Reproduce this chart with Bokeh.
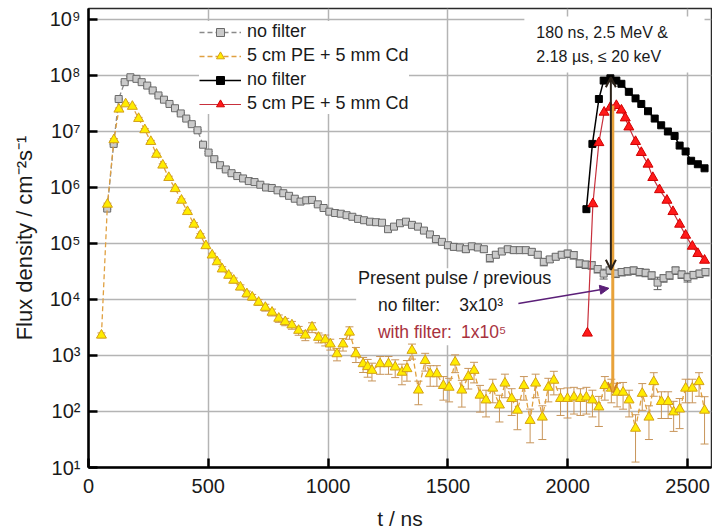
from bokeh.plotting import figure
from bokeh.models import (Range1d, FixedTicker, Legend, LegendItem, Whisker, TeeHead,
                          Arrow, OpenHead, NormalHead, Label, BoxAnnotation, ColumnDataSource)
from bokeh.embed import file_html
from bokeh.resources import INLINE

FONT = "Liberation Sans"

# ---- previous pulse, no filter (t in ns, flux in cm^-2 s^-1) ----
t_prev = [78, 105, 126, 151, 175, 200, 222, 245, 268, 292, 315, 338, 361, 385, 408, 431, 455,
          478, 501, 525, 549, 573, 597, 621, 645, 669, 693, 717, 741, 765, 789, 813, 837, 861,
          885, 909, 933, 957, 981, 1005, 1029, 1053, 1077, 1101, 1125,
          1150, 1175, 1200, 1225, 1250, 1275, 1300, 1325, 1350, 1375, 1400, 1425, 1450, 1475,
          1500, 1525, 1550, 1575, 1600, 1625, 1650, 1675, 1700, 1725, 1750, 1775, 1800, 1825,
          1850, 1875, 1900, 1925, 1950, 1975,
          2000, 2025, 2050, 2075, 2100, 2125, 2150, 2175, 2200, 2225, 2250, 2275, 2300, 2325,
          2350, 2375, 2400, 2425, 2450, 2475, 2500, 2525, 2550, 2575]
flux_prev = [4.2e5, 6.0e6, 3.8e7, 7.6e7, 9.3e7, 8.7e7, 7.6e7, 6.6e7, 5.4e7, 4.4e7, 3.7e7, 3.1e7,
             2.6e7, 2.1e7, 1.7e7, 1.35e7, 1.05e7,
             5.8e6, 4.2e6, 3.2e6, 2.5e6, 2.1e6, 1.8e6, 1.6e6, 1.45e6, 1.3e6, 1.25e6, 1.12e6, 1.0e6,
             9.8e5, 8.9e5, 7.9e5, 7.1e5, 6.3e5, 5.6e5, 5.9e5, 6.0e5, 5.0e5, 4.3e5, 3.7e5, 3.5e5,
             3.4e5, 3.2e5, 3.0e5, 2.75e5,
             2.6e5, 2.45e5, 2.4e5, 2.35e5, 1.8e5, 2.0e5, 2.3e5, 2.45e5, 2.15e5, 2.0e5, 1.7e5,
             1.45e5, 1.2e5, 1.07e5,
             9.3e4, 8.7e4, 8.5e4, 7.9e4, 8.9e4, 8.5e4, 7.9e4, 5.5e4, 6.3e4, 7.2e4, 7.9e4, 7.6e4,
             7.6e4, 7.6e4, 7.1e4, 6.3e4, 4.7e4, 5.2e4, 5.8e4, 6.3e4,
             6.6e4, 6.2e4, 4.4e4, 4.2e4, 4.1e4, 3.5e4, 2.9e4, 3.3e4, 2.9e4, 3.1e4, 3.2e4, 3.3e4,
             3.1e4, 3.0e4, 2.7e4, 2.0e4, 2.4e4, 2.7e4, 3.3e4, 2.8e4, 2.5e4, 2.75e4, 2.9e4, 3.1e4]
relerr_prev = [0.03, 0.03, 0.03, 0.03, 0.03, 0.03, 0.03, 0.03, 0.03, 0.03, 0.03, 0.03, 0.03,
               0.03, 0.03, 0.03, 0.03,
               0.05, 0.05, 0.05, 0.05, 0.05, 0.05, 0.05, 0.05, 0.05, 0.05, 0.05, 0.05, 0.05,
               0.05, 0.05, 0.05, 0.05, 0.05, 0.05, 0.05, 0.05, 0.05, 0.06, 0.06, 0.06, 0.06,
               0.06, 0.06,
               0.08, 0.08, 0.08, 0.08, 0.1, 0.08, 0.08, 0.08, 0.08, 0.08, 0.08, 0.08, 0.1, 0.1,
               0.12, 0.12, 0.12, 0.12, 0.12, 0.12, 0.12, 0.15, 0.12, 0.12, 0.12, 0.12, 0.12,
               0.12, 0.12, 0.12, 0.15, 0.12, 0.12, 0.12,
               0.15, 0.15, 0.15, 0.15, 0.15, 0.15, 0.2, 0.15, 0.15, 0.15, 0.15, 0.15, 0.15,
               0.15, 0.15, 0.25, 0.15, 0.15, 0.15, 0.15, 0.18, 0.15, 0.15, 0.15]

# ---- previous pulse, 5 cm PE + 5 mm Cd ----
t_prev_f = [54, 79, 106, 127, 155, 183, 209, 235, 260, 284, 310, 335, 362, 388, 413, 440, 467,
            490, 516, 537, 558, 585, 606, 634, 661, 683, 710, 738, 766, 794, 821, 849, 877, 905,
            933, 960, 988, 1009, 1037, 1062, 1089, 1116, 1146, 1165, 1183, 1217, 1252, 1280,
            1308, 1329, 1350, 1377, 1405, 1426, 1454, 1481, 1505, 1530, 1558, 1585, 1609, 1634,
            1659, 1687, 1715, 1738, 1766, 1790, 1817, 1843, 1866, 1894, 1919, 1942, 1970, 1999,
            2026, 2053, 2078, 2103, 2130, 2155, 2182, 2206, 2231, 2256, 2283, 2311, 2339, 2359,
            2391, 2419, 2442, 2467, 2492, 2520, 2548, 2571]
flux_prev_f = [2.3e3, 5.0e5, 7.1e6, 2.5e7, 3.1e7, 2.8e7, 1.7e7, 1.07e7, 6.6e6, 3.9e6,
               2.5e6, 1.5e6, 9.5e5, 5.9e5, 3.7e5, 2.2e5, 1.4e5, 9.1e4, 6.2e4, 4.7e4,
               3.5e4, 2.7e4, 2.2e4, 1.66e4, 1.26e4, 1.1e4, 8.9e3, 7.2e3, 5.9e3, 4.6e3,
               4.0e3, 3.5e3, 2.8e3, 2.3e3, 3.2e3, 2.1e3, 1.9e3, 1.6e3, 1.07e3, 1.6e3,
               2.6e3, 1.07e3, 7.1e2, 6.3e2, 5.4e2, 7.1e2, 7.1e2, 6.2e2, 5.0e2, 5.8e2,
               1.23e3, 2.4e2, 8.1e2, 4.7e2, 4.7e2, 2.9e2, 2.7e2, 7.6e2, 2.4e2, 4.2e2,
               5.4e2, 1.95e2, 1.6e2, 2.6e2, 1.3e2, 3.2e2, 1.7e2, 1.05e2, 2.9e2, 69,
               3.2e2, 79, 2.7e2, 3.6e2, 1.7e2, 1.7e2, 1.8e2, 1.7e2, 1.8e2, 1.6e2,
               1.2e2, 2.9e2, 2.6e2, 2.2e2, 2.2e2, 1.6e2, 50, 2.1e2, 79, 3.4e2,
               1.5e2, 1.5e2, 98, 1.1e2, 2.6e2, 2.6e2, 3.4e2, 1.05e2]
relerr_prev_f = [0.1, 0.05, 0.05, 0.05, 0.05, 0.05, 0.05, 0.05, 0.05, 0.05,
                 0.06, 0.06, 0.06, 0.06, 0.06, 0.07, 0.07, 0.08, 0.08, 0.08,
                 0.1, 0.1, 0.1, 0.1, 0.12, 0.12, 0.12, 0.14, 0.14, 0.15,
                 0.15, 0.16, 0.18, 0.2, 0.2, 0.2, 0.22, 0.22, 0.25, 0.25,
                 0.25, 0.3, 0.3, 0.35, 0.35, 0.35, 0.35, 0.35, 0.4, 0.4,
                 0.3, 0.45, 0.35, 0.4, 0.4, 0.45, 0.45, 0.35, 0.5, 0.4,
                 0.4, 0.5, 0.5, 0.45, 0.5, 0.45, 0.5, 0.55, 0.45, 0.6,
                 0.45, 0.6, 0.45, 0.45, 0.5, 0.55, 0.5, 0.5, 0.5, 0.5,
                 0.55, 0.45, 0.45, 0.45, 0.5, 0.5, 0.75, 0.5, 0.6, 0.45,
                 0.5, 0.5, 0.55, 0.55, 0.45, 0.45, 0.45, 0.75]

# ---- present pulse ----
t_now = [2078, 2103, 2130, 2150, 2178, 2203, 2224, 2255, 2283, 2307, 2335, 2363, 2390, 2418,
         2446, 2467, 2492, 2515, 2543, 2571]
flux_now = [4.1e5, 6.0e6, 3.8e7, 8.1e7, 8.9e7, 8.1e7, 7.1e7, 5.1e7, 3.9e7, 3.1e7, 2.3e7, 1.7e7,
            1.29e7, 1.0e7, 8.3e6, 5.6e6, 4.4e6, 3.0e6, 2.6e6, 2.2e6]
t_now_f = [2082, 2105, 2130, 2152, 2178, 2203, 2224, 2240, 2255, 2283, 2307, 2335, 2355, 2383,
           2414, 2439, 2467, 2492, 2520, 2543, 2571]
flux_now_f = [2.5e3, 5.1e5, 6.3e6, 2.2e7, 2.7e7, 2.9e7, 2.4e7, 1.74e7, 1.2e7, 6.6e6, 4.2e6,
              2.6e6, 1.5e6, 9.1e5, 5.9e5, 3.7e5, 2.2e5, 1.4e5, 8.9e4, 6.6e4, 5.0e4]

x_ticks = [0, 500, 1000, 1500, 2000, 2500]
y_ticks = [10, 100, 1000, 10000, 100000, 1000000, 10000000, 100000000, 1000000000]
y_tick_labels = ["10¹", "10²", "10³", "10⁴", "10⁵", "10⁶", "10⁷", "10⁸", "10⁹"]

p = figure(width=712, height=532, x_range=Range1d(0, 2600), y_range=Range1d(10, 10 ** 9.196),
           y_axis_type="log", output_backend="svg", toolbar_location=None,
           min_border_left=88, min_border_right=1, min_border_top=8, min_border_bottom=65)
p.background_fill_color = "white"
p.border_fill_color = "white"
p.outline_line_color = "#2a2a2a"
p.outline_line_width = 1.5

xt = FixedTicker(ticks=x_ticks)
yt = FixedTicker(ticks=y_ticks)
p.xaxis.ticker = xt
p.yaxis.ticker = yt
p.xgrid.ticker = xt
p.ygrid.ticker = yt
p.yaxis.major_label_overrides = dict(zip(y_ticks, y_tick_labels))

for ax in (p.xaxis, p.yaxis):
    ax.axis_line_color = "black"
    ax.axis_line_width = 2.5
    ax.major_tick_in = 9
    ax.major_tick_out = 0
    ax.major_tick_line_width = 2.5
    ax.major_tick_line_color = "black"
    ax.minor_tick_in = 0
    ax.minor_tick_out = 0
    ax.major_label_text_font = FONT
    ax.major_label_text_font_size = "20px"
    ax.major_label_text_color = "#1a1a1a"
    ax.axis_label_text_font = FONT
    ax.axis_label_text_font_style = "normal"
    ax.axis_label_text_color = "#1a1a1a"

p.xaxis.axis_label = "t / ns"
p.xaxis.axis_label_text_font_size = "21px"
p.xaxis.major_label_standoff = 11
p.xaxis.axis_label_standoff = 11
p.yaxis.axis_label = "Flux density / cm⁻²s⁻¹"
p.yaxis.axis_label_text_font_size = "22px"
p.yaxis.major_label_standoff = 8
p.yaxis.axis_label_standoff = 10

for g in (p.xgrid, p.ygrid):
    g.grid_line_color = "#b4b4b4"
    g.grid_line_width = 1.5
p.ygrid.minor_grid_line_color = None

# white boxes behind the text blocks
p.add_layout(BoxAnnotation(left=1819, right=2571, bottom=10 ** 8.054, top=10 ** 9.054,
                           fill_color="white", fill_alpha=1, line_color=None, level="underlay"))
p.add_layout(BoxAnnotation(left=1117, right=1994, bottom=10 ** 3.184, top=10 ** 4.557,
                           fill_color="white", fill_alpha=1, line_color=None, level="underlay"))


def with_errors(t, f, rel):
    lo = [v * (1 - r) for v, r in zip(f, rel)]
    hi = [v * (1 + r) for v, r in zip(f, rel)]
    return ColumnDataSource(dict(t=t, f=f, lo=lo, hi=hi))


src_prev = with_errors(t_prev, flux_prev, relerr_prev)
src_prev_f = with_errors(t_prev_f, flux_prev_f, relerr_prev_f)

for src, col in ((src_prev, "#5a5a5a"), (src_prev_f, "#c8955a")):
    p.add_layout(Whisker(source=src, base="t", upper="hi", lower="lo", dimension="height",
                         line_color=col, line_width=1,
                         upper_head=TeeHead(size=8, line_color=col, line_width=1),
                         lower_head=TeeHead(size=8, line_color=col, line_width=1),
                         level="underlay"))

gl = p.line("t", "f", source=src_prev, line_color="#8a8a8a", line_width=1.3, line_dash="5 3")
gs = p.scatter("t", "f", source=src_prev, marker="square", size=7, fill_color="#cacaca",
               line_color="#6a6a6a", line_width=1)
yl = p.line("t", "f", source=src_prev_f, line_color="#e0a040", line_width=1.3, line_dash="5 3")
ys = p.scatter("t", "f", source=src_prev_f, marker="triangle", size=10, fill_color="#ffec00",
               line_color="#d4a017", line_width=1)

bl = p.line(t_now, flux_now, line_color="black", line_width=1.5)
bs = p.scatter(t_now, flux_now, marker="square", size=7, fill_color="black", line_color="black")
rl = p.line(t_now_f, flux_now_f, line_color="#c8303c", line_width=1.2)
rs = p.scatter(t_now_f, flux_now_f, marker="triangle", size=10, fill_color="#ff1a1a",
               line_color="#d00000", line_width=1)

# ratio arrows between present and previous pulse
p.add_layout(Arrow(x_start=2188, y_start=2.9e7, x_end=2188, y_end=2.2e2,
                   line_color="#e8a23a", line_width=3,
                   end=OpenHead(size=10, line_color="#d08020", line_width=2)))
p.add_layout(Arrow(x_start=2180, y_start=9.3e7, x_end=2180, y_end=3.4e4,
                   line_color="#2b2118", line_width=2,
                   start=OpenHead(size=10, line_color="#2b2118", line_width=2),
                   end=OpenHead(size=10, line_color="#2b2118", line_width=2)))
p.add_layout(Arrow(x_start=1794, y_start=10 ** 3.93, x_end=2172, y_end=10 ** 4.2,
                   line_color="#5b1f78", line_width=1.5,
                   end=NormalHead(size=9, fill_color="#5b1f78", line_color="#5b1f78")))

def add_text(x, y, text, size, color="#1a1a1a", align="left"):
    p.add_layout(Label(x=x, y=y, text=text, text_font=FONT, text_font_size=size,
                       text_color=color, text_align=align, text_baseline="middle"))

add_text(1869, 10 ** 8.768, "180 ns,  2.5 MeV &", "16px")
add_text(1869, 10 ** 8.34, "2.18 µs, ≤ 20 keV", "16px")
add_text(1125, 10 ** 4.379, "Present pulse / previous", "18px")
add_text(1208, 10 ** 3.897, "no filter:", "17.5px")
add_text(1547, 10 ** 3.897, "3x10³", "17.5px")
add_text(1208, 10 ** 3.416, "with filter:", "17.5px", color="#a8323e")
add_text(1555, 10 ** 3.416, "1x10⁵", "17.5px", color="#a8323e")

legend = Legend(items=[
    LegendItem(label="no filter", renderers=[gl, gs]),
    LegendItem(label="5 cm PE + 5 mm Cd", renderers=[yl, ys]),
    LegendItem(label="no filter", renderers=[bl, bs]),
    LegendItem(label="5 cm PE + 5 mm Cd", renderers=[rl, rs]),
], location=(111, 353), background_fill_color="white", background_fill_alpha=1,
    border_line_color=None, padding=4, spacing=3, margin=0, glyph_width=42, glyph_height=20,
    label_height=20, label_standoff=6, label_text_font=FONT, label_text_font_size="18px",
    label_text_color="#1a1a1a")
p.add_layout(legend)

open("out.html", "w").write(file_html(p, INLINE))
